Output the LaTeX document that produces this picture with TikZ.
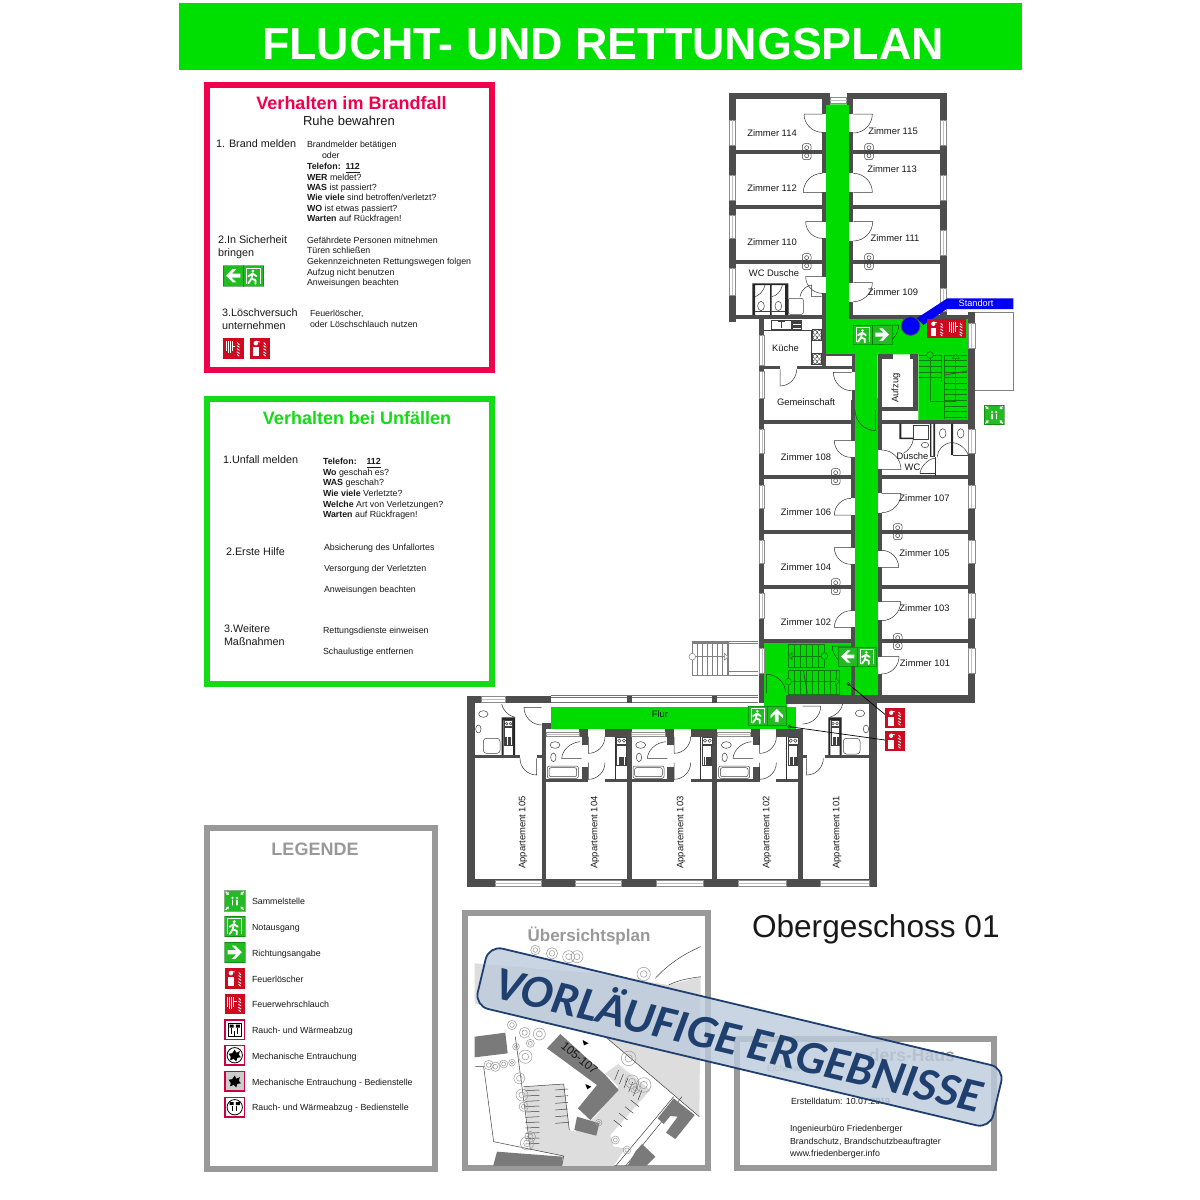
\documentclass[tikz,border=0pt]{standalone}
\usepackage{fontspec}
\setmainfont{Liberation Sans}
\newfontfamily\banfont{Carlito}
\usetikzlibrary{calc}
\definecolor{floorg}{HTML}{00DC00}
\definecolor{titleg}{HTML}{00E000}
\definecolor{signg}{HTML}{22BB22}
\definecolor{signr}{HTML}{CC0A20}
\definecolor{panelr}{HTML}{F0004C}
\definecolor{panelg}{HTML}{14DC14}
\definecolor{panelk}{HTML}{999999}
\definecolor{wallc}{HTML}{4D4D4D}
\definecolor{bandb}{HTML}{1F3F6F}
\definecolor{bandf}{HTML}{BDCBDD}
\definecolor{stairg}{HTML}{0E7A0E}
\definecolor{mapg}{HTML}{DDDDDD}
\definecolor{bldg}{HTML}{7A7A7A}
\newcommand\fz[1]{\fontsize{#1}{#1}\selectfont}
\newcounter{tn}
\newcommand\lbx[4][]{\stepcounter{tn}\node[txt,#1] (t\arabic{tn}) at (#2,#3) {#4};}
\newcommand\txS[3]{\lbx[anchor=base west,font=\fz{4.42}]{#1}{#2+3.1}{#3}}
\newcommand\txH[3]{\lbx[anchor=base west,font=\fz{5.4}]{#1}{#2+3.9}{#3}}
\newcommand\txR[3]{\lbx[font=\fz{4.7}]{#1}{#2}{#3}}
\newcommand\wlx[4]{\fill[wallc] (#1,#2) rectangle (#3,#4);}
\newcommand\gpx[4]{\fill[white] (#1,#2) rectangle (#3,#4);}
\newcommand\wvx[4]{\fill[white] (#1,#3) rectangle (#2,#4);\draw[winl] (#1,#3) rectangle (#2,#4);\draw[winc] ({(#1+#2)/2},#3) -- ({(#1+#2)/2},#4);}
\newcommand\whx[4]{\fill[white] (#1,#3) rectangle (#2,#4);\draw[winl] (#1,#3) rectangle (#2,#4);\draw[winc] (#1,{(#3+#4)/2}) -- (#2,{(#3+#4)/2});}
\newcommand\doorH[5]{\draw[doorl] (#1,#2) -- ({#1+#3*#5},#2) .. controls ({#1+#3*#5},{#2+#4*.55*#5}) and ({#1+#3*.55*#5},{#2+#4*#5}) .. (#1,{#2+#4*#5});}
\newcommand\doorV[5]{\draw[doorl] (#1,#2) -- (#1,{#2+#4*#5}) .. controls ({#1+#3*.55*#5},{#2+#4*#5}) and ({#1+#3*#5},{#2+#4*.55*#5}) .. ({#1+#3*#5},#2);}
\newcommand\duct[2]{\draw[fix,rounded corners=1.2pt] (#1-13,#2-24) rectangle (#1+13,#2-1);\draw[fix,rounded corners=1.2pt] (#1-13,#2+1) rectangle (#1+13,#2+24);\draw[fix] (#1,#2-12) ellipse (6 and 6);\draw[fix] (#1,#2+12) ellipse (6 and 6);}
\newcommand\sgn[4]{\begin{scope}[shift={(#1,#2)},scale=#3/20]#4\end{scope}}
\newcommand\gbg{\fill[signg] (0,0) rectangle (20,20);\draw[green!40!black,line width=.2pt,opacity=.5] (0,0) rectangle (20,20);}
\newcommand\rbg{\fill[signr] (0,0) rectangle (20,20);}
\newcommand\icRun{\gbg\draw[white,line width=.55pt] (3.2,18) -- (3.2,2.6) -- (16.8,2.6) -- (16.8,18);\fill[white] (9.5,5.6) circle (1.5);\draw[white,line width=.9pt,line cap=round,line join=round] (5,10.5) -- (9.2,8) -- (8,13) -- (5,17.5);\draw[white,line width=.9pt,line cap=round,line join=round] (9.2,8) -- (13,10.5);\draw[white,line width=.9pt,line cap=round,line join=round] (8,13) -- (12,14.5) -- (12,18);}
\newcommand\icArr[1]{\gbg\begin{scope}[rotate around={#1:(10,10)}]\fill[white] (17,10) -- (10.5,3.5) -- (7,3.5) -- (11.5,8) -- (3,8) -- (3,12) -- (11.5,12) -- (7,16.5) -- (10.5,16.5) -- cycle;\end{scope}}
\newcommand\flames{\draw[white,line width=.45pt,line cap=round] (14,4.5) -- (15.8,6.5) (13.8,7.5) -- (16,9) (13.8,10.5) -- (16,12) (13.6,13.5) -- (16,15) (13.8,16) -- (15.6,17.5);}
\newcommand\icExt{\rbg\fill[white] (3.5,9) rectangle (9,18);\fill[white] (6.2,5) circle (2.2);\draw[white,line width=.4pt] (6.2,3) -- (10,4);\flames}
\newcommand\icHose{\rbg\draw[white,line width=.45pt] (3,3) -- (3,13) (5,3) -- (5,15) (7,3) -- (7,15) (9,3) -- (9,13) (9,8) -- (12,8);\flames}
\newcommand\icSam{\gbg\fill[white] (7.8,7.2) circle (1.2) (12.2,7.2) circle (1.2);\draw[white,line width=.7pt,line cap=round] (7.8,9.5) -- (7.8,14) (12.2,9.5) -- (12.2,14);\foreach \a in {45,135,225,315}{\begin{scope}[rotate around={\a:(10,10)}]\fill[white] (22.5,9.4) rectangle (20.5,10.6);\fill[white] (20.5,8.2) -- (18,10) -- (20.5,11.8) -- cycle;\end{scope}}}
\newcommand\rframe{\fill[white] (0,0) rectangle (20,20);\draw[panelr!85!black,line width=.75pt] (.6,.6) rectangle (19.4,19.4);}
\newcommand\icRwa{\rframe\draw[black,line width=.3pt] (4,4) rectangle (16,16);\fill[black] (5,5) rectangle (9,8) (11,5) rectangle (15,8);\draw[black,line width=.45pt] (7,8) -- (7,14) (13,8) -- (13,14) (10,11) -- (10,16);}
\newcommand\icBlob{\fill[black] (10,4.5) -- (11.5,7.5) -- (15,6) -- (14,9.5) -- (16,12) -- (12.5,12.5) -- (11.5,16) -- (9,13.5) -- (5.5,15) -- (6,11.5) -- (4,8.5) -- (7.5,8) -- cycle;}
\newcommand\icMech{\rframe\draw[black,line width=.4pt] (10,10) circle (7.5);\icBlob}
\newcommand\icMechB{\fill[black!20] (0,0) rectangle (20,20);\draw[panelr!85!black,line width=.75pt] (.6,.6) rectangle (19.4,19.4);\icBlob}
\newcommand\icRwaB{\rframe\draw[black,line width=.4pt] (10,10) circle (7.5);\fill[black] (5,5) rectangle (9,8) (11,5) rectangle (15,8);\draw[black,line width=.4pt] (8,9) -- (8,14) (12,9) -- (12,14);}
\newcommand\tree[3]{\draw[treel] (#1,#2) circle (#3);\draw[treel] (#1,#2) circle ({#3*.5});}
\newcommand\apt[1]{%
 \wlx{358+#1}{298}{385+#1}{320}\wlx{435+#1}{298}{515+#1}{320}
 \wlx{258+#1}{448}{385+#1}{455}\wlx{435+#1}{448}{500+#1}{455}
 \wlx{365+#1}{320}{385+#1}{345}\wlx{365+#1}{410}{385+#1}{455}
 \whx{258+#1}{358+#1}{306}{320}
 \doorV{385+#1}{320}{1}{1}{50}
 \doorV{385+#1}{398}{1}{1}{50}
 \draw[doorl] (360+#1,335) .. controls (330+#1,338) and (307+#1,360) .. (305+#1,385) -- (365+#1,385);
 \draw[doorl] (465+#1,320) -- (465+#1,450);
 \draw[fix] (285+#1,345) ellipse (15 and 10);\draw[fix] (280+#1,382) ellipse (8 and 13);
 \draw[fix,rounded corners=1pt] (262+#1,408) rectangle (355+#1,445);\draw[fix,rounded corners=1pt] (267+#1,413) rectangle (350+#1,440);
 \draw[fix] (470+#1,322) rectangle (500+#1,342);\draw[fix] (478+#1,332) circle (5);\draw[fix] (492+#1,332) circle (5);
 \draw[fix] (470+#1,345) rectangle (498+#1,405);
 \foreach \q in {2,...,7}{\draw[fix] (470+#1+\q*3.5,380) -- (470+#1+\q*3.5,404);}
}
\tikzset{
 txt/.style={inner sep=0pt,outer sep=0pt,align=left,text=black!90},
 winl/.style={draw=black!45,line width=.22pt},
 winc/.style={draw=black!25,line width=.3pt},
 doorl/.style={draw=black!80,line width=.25pt},
 fix/.style={draw=black!75,line width=.25pt},
 stairo/.style={draw=black!50,line width=.25pt},
 stairl/.style={draw=stairg,line width=.3pt},
 treel/.style={draw=black!40,line width=.25pt},
 zscale/.style={shift={(#1)},scale=0.33333},
 plain panel/.style={line width=3pt,fill=white}
}
\begin{document}
\begin{tikzpicture}[x=0.5pt,y=-0.5pt]
\useasboundingbox (0,0) rectangle (1200,1200);
\fill[white] (0,0) rectangle (1200,1200);
% title
\fill[titleg] (179,3) rectangle (1022,70);
\lbx[font=\bfseries\fz{22.4},text=white]{603}{44.5}{FLUCHT- UND RETTUNGSPLAN}
% panels
\draw[panelr,plain panel] (207,85) rectangle (492,370);
\draw[panelg,plain panel] (207,399) rectangle (492,684);
\draw[panelk,plain panel] (207,828) rectangle (435,1169);
\draw[panelk,plain panel] (465,913) rectangle (708,1168);
\draw[panelk,plain panel] (737,1039) rectangle (994,1168);
% red panel text
\lbx[font=\bfseries\fz{9},text=panelr]{351.5}{103}{Verhalten im Brandfall}
\lbx[font=\fz{6.5}]{349}{121}{Ruhe bewahren}
\txH{216}{144}{1. Brand melden}
\txS{307}{144.5}{Brandmelder betätigen}
\txS{322}{155.5}{oder}
\txS{307}{166}{\textbf{Telefon:\ \ \underline{112}}}
\txS{307}{177}{\textbf{WER} meldet?}
\txS{307}{187}{\textbf{WAS} ist passiert?}
\txS{307}{197.5}{\textbf{Wie viele} sind betroffen/verletzt?}
\txS{307}{208}{\textbf{WO} ist etwas passiert?}
\txS{307}{218.5}{\textbf{Warten} auf Rückfragen!}
\txH{218}{239.5}{2.In Sicherheit}
\txH{218}{252.5}{bringen}
\txS{307}{240}{Gefährdete Personen mitnehmen}
\txS{307}{250.5}{Türen schließen}
\txS{307}{261}{Gekennzeichneten Rettungswegen folgen}
\txS{307}{272}{Aufzug nicht benutzen}
\txS{307}{282}{Anweisungen beachten}
\txH{222}{312.5}{3.Löschversuch}
\txH{222}{326}{unternehmen}
\txS{310}{313}{Feuerlöscher,}
\txS{310}{324}{oder Löschschlauch nutzen}
\sgn{223}{265.5}{20.3}{\icArr{180}}
\sgn{243.3}{265.5}{20.3}{\icRun}
\sgn{223}{338}{20.5}{\icHose}
\sgn{249.5}{338}{20.5}{\icExt}
% green panel text
\lbx[font=\bfseries\fz{9},text=panelg]{357}{418}{Verhalten bei Unfällen}
\txH{223}{460}{1.Unfall melden}
\txS{323}{461}{\textbf{Telefon:\ \ \ \ \underline{112}}}
\txS{323}{472}{\textbf{Wo} geschah es?}
\txS{323}{482.5}{\textbf{WAS} geschah?}
\txS{323}{493}{\textbf{Wie viele} Verletzte?}
\txS{323}{504}{\textbf{Welche} Art von Verletzungen?}
\txS{323}{514.5}{\textbf{Warten} auf Rückfragen!}
\txH{226}{552}{2.Erste Hilfe}
\txS{324}{547.5}{Absicherung des Unfallortes}
\txS{324}{568}{Versorgung der Verletzten}
\txS{324}{589}{Anweisungen beachten}
\txH{224}{629}{3.Weitere}
\txH{224}{642}{Maßnahmen}
\txS{323}{630.5}{Rettungsdienste einweisen}
\txS{323}{651.5}{Schaulustige entfernen}
% legend
\lbx[font=\bfseries\fz{9},text=panelk]{315}{849}{LEGENDE}
\sgn{224.5}{890.5}{20.5}{\icSam}\txS{252}{901.5}{Sammelstelle}
\sgn{224.5}{916}{20.5}{\icRun}\txS{252}{927}{Notausgang}
\sgn{224.5}{942}{20.5}{\icArr{0}}\txS{252}{953}{Richtungsangabe}
\sgn{224.5}{968}{20.5}{\icExt}\txS{252}{979}{Feuerlöscher}
\sgn{224.5}{993.5}{20.5}{\icHose}\txS{252}{1004.5}{Feuerwehrschlauch}
\sgn{224.5}{1019.5}{20.5}{\icRwa}\txS{252}{1030}{Rauch- und Wärmeabzug}
\sgn{224.5}{1045}{20.5}{\icMech}\txS{252}{1056}{Mechanische Entrauchung}
\sgn{224.5}{1071}{20.5}{\icMechB}\txS{252}{1082}{Mechanische Entrauchung - Bedienstelle}
\sgn{224.5}{1097}{20.5}{\icRwaB}\txS{252}{1107.5}{Rauch- und Wärmeabzug - Bedienstelle}
\lbx[font=\fz{15.8},anchor=west]{752}{929}{Obergeschoss 01}
\lbx[font=\bfseries\fz{8.5},text=panelk]{589}{935.5}{Übersichtsplan}
% ---------- plan: green floor
\begin{scope}[zscale={720,85}]
 \fill[floorg] (318,58) -- (388,58) -- (388,700) -- (745,700) -- (745,1005) -- (595,1005) -- (595,808) -- (473,808) -- (473,1020) -- (405,1020) -- (405,812) -- (318,812) -- cycle;
\end{scope}
\begin{scope}[zscale={720,400}]
 \fill[floorg] (405,-5) rectangle (473,885);
 \fill[floorg] (133,730) rectangle (393,885);
 \fill[floorg] (133,880) rectangle (200,925);
 \fill[floorg] (-507,920) rectangle (228,988);
\end{scope}
% north wing
\begin{scope}[zscale={720,85}]
 \wlx{27}{23}{330}{43}\wlx{380}{23}{680}{43}\wlx{307}{23}{330}{60}\wlx{380}{23}{400}{60}
 \wlx{27}{23}{47}{710}\wlx{660}{23}{680}{700}
 \wlx{47}{195}{307}{207}\wlx{47}{360}{307}{372}\wlx{47}{525}{307}{537}
 \wlx{400}{195}{660}{207}\wlx{400}{360}{660}{372}\wlx{400}{525}{660}{537}
 \wlx{307}{43}{318}{842}\wlx{388}{43}{400}{700}
 \wlx{27}{690}{318}{702}\wlx{388}{690}{765}{702}\wlx{745}{680}{765}{715}
 \wlx{118}{700}{133}{1025}
 \wlx{118}{842}{180}{853}\wlx{230}{842}{405}{853}
 \wlx{318}{806}{405}{812}\wlx{395}{806}{405}{1025}
 \wlx{473}{808}{485}{1025}\wlx{473}{808}{520}{822}\wlx{570}{808}{595}{822}\wlx{580}{808}{595}{978}
 \wlx{485}{965}{595}{978}\wlx{473}{1005}{765}{1017}\wlx{745}{790}{765}{1025}
 % windows
 \wvx{27}{47}{105}{180}\wvx{27}{47}{270}{345}\wvx{27}{47}{390}{460}\wvx{27}{47}{550}{630}
 \wvx{660}{680}{105}{180}\wvx{660}{680}{270}{345}\wvx{660}{680}{435}{510}\wvx{660}{680}{610}{680}
 \wvx{118}{133}{750}{840}\wvx{118}{133}{860}{940}\wvx{745}{765}{715}{790}
 \whx{330}{380}{37}{56}
 % door gaps
 \gpx{307}{87}{318}{140}\gpx{307}{265}{318}{322}\gpx{307}{410}{318}{460}\gpx{307}{575}{318}{625}
 \gpx{388}{87}{400}{142}\gpx{388}{265}{400}{322}\gpx{388}{410}{400}{468}\gpx{388}{593}{400}{650}
 \gpx{395}{862}{405}{915}\gpx{180}{842}{230}{853}
 % doors
 \doorH{307}{87}{-1}{1}{55}\doorH{307}{322}{-1}{-1}{57}\doorH{307}{410}{-1}{1}{50}\doorH{307}{575}{-1}{1}{50}
 \doorH{400}{87}{1}{1}{57}\doorH{400}{322}{1}{-1}{57}\doorH{400}{410}{1}{1}{58}\doorH{400}{593}{1}{1}{57}
 \doorH{395}{862}{-1}{1}{55}
 \doorV{180}{853}{1}{1}{50}
 \doorH{478}{720}{1}{1}{58}
 \duct{260}{200}\duct{447}{200}\duct{260}{530}\duct{447}{530}
 % WC Dusche
 \fill[black!85] (97,595) rectangle (105,690) (150,595) rectangle (155,690) (195,595) rectangle (205,690) (97,595) rectangle (205,600);
 \draw[fix] (123,663) ellipse (10 and 14);\draw[fix] (175,663) ellipse (10 and 14);
 \draw[doorl] (105,635) .. controls (115,632) and (130,622) .. (135,600);\draw[doorl] (155,635) .. controls (170,632) and (182,622) .. (187,600);
 \draw[fix] (105,680) -- (195,680);
 \draw[fix,rounded corners=1pt] (205,640) rectangle (250,688);
 \draw[doorl] (240,635) .. controls (245,610) and (265,600) .. (275,600) -- (275,635) -- (305,635);
 % Kueche
 \draw[fix] (133,735) -- (275,735) -- (275,840);
 \draw[fix] (155,705) rectangle (215,732);\draw[fix] (185,705) -- (185,728) (175,710) -- (195,710);
 \draw[fix] (218,705) rectangle (245,732);\foreach \q in {708,712,...,730}{\draw[fix] (218,\q) -- (245,\q);}
 \foreach \q in {750,822}{\draw[fix] (278,\q-16) rectangle (305,\q+16);\draw[fix] (285,\q-8) circle (6);\draw[fix] (298,\q-8) circle (6);\draw[fix] (285,\q+8) circle (6);\draw[fix] (298,\q+8) circle (6);}
 % stairs north
 \foreach \q in {810,827,...,880}{\draw[stairl] (597,\q) -- (665,\q) (672,\q) -- (742,\q);}
 \foreach \q in {895,912,...,1000}{\draw[stairl] (672,\q) -- (742,\q);}
 \draw[stairl] (630,810) -- (630,948) -- (707,948) -- (707,815);
 \draw[stairl] (665,810) -- (665,890) (672,810) -- (672,1003);
 \draw[stairl,fill=floorg] (630,810) circle (10);
 \draw[stairl,fill=floorg] (697,820) -- (707,808) -- (717,820) -- cycle;
 \draw[black!70,line width=.45pt] (675,870) -- (742,858);
 % standort
 \fill[blue!95!black] (682,640) -- (880,640) -- (880,672) -- (680,672) -- (610,720) -- (590,700) -- cycle;
 \fill[blue!95!black] (572,723) circle (28);
 \draw[black!70] (572,723) circle (28);
 \draw[draw=black!50,line width=.25pt] (765,682) -- (880,682) -- (880,915) -- (765,915);
\end{scope}
\lbx[font=\fz{4.6},text=white]{976}{303.5}{Standort}
\txR{772}{133}{Zimmer 114}\txR{893}{131}{Zimmer 115}\txR{772}{188}{Zimmer 112}\txR{892}{169.5}{Zimmer 113}
\txR{772}{242.5}{Zimmer 110}\txR{895}{238}{Zimmer 111}\txR{774}{273}{WC Dusche}\txR{893}{292.5}{Zimmer 109}
\txR{785.5}{348}{Küche}\txR{806}{402.5}{Gemeinschaft}
\lbx[font=\fz{4.7},rotate=90]{896}{388}{Aufzug}
% middle wing
\begin{scope}[zscale={720,400}]
 \wlx{118}{0}{133}{910}\wlx{745}{0}{765}{910}
 \wlx{393}{0}{405}{885}\wlx{473}{0}{485}{885}
 \foreach \a in {60,225,390,555,718}{\wlx{133}{\a}{393}{\a+11}}
 \foreach \a in {225,390,555,718}{\wlx{485}{\a}{745}{\a+11}}
 \wlx{485}{60}{745}{70}
 \wlx{200}{885}{765}{910}
 \foreach \a/\b in {88/160,255/325,420/490,580/655,745/820}{\wvx{118}{133}{\a}{\b}\wvx{745}{765}{\a}{\b}}
 \gpx{393}{122}{405}{172}\gpx{393}{295}{405}{345}\gpx{393}{443}{405}{493}\gpx{393}{632}{405}{682}
 \gpx{473}{150}{485}{208}\gpx{473}{280}{485}{338}\gpx{473}{452}{485}{502}\gpx{473}{605}{485}{660}\gpx{473}{770}{485}{822}
 \doorH{393}{122}{-1}{1}{50}\doorH{393}{345}{-1}{-1}{50}\doorH{393}{443}{-1}{1}{50}\doorH{393}{682}{-1}{-1}{50}
 \doorH{485}{208}{1}{-1}{58}\doorH{485}{280}{1}{1}{58}\doorH{485}{502}{1}{-1}{51}\doorH{485}{605}{1}{1}{57}\doorH{485}{770}{1}{1}{52}
 \doorV{467}{30}{-1}{1}{62}
 \doorH{393}{738}{-1}{1}{56}
 \doorV{140}{880}{1}{-1}{57}
 \duct{347}{230}\duct{533}{395}\duct{347}{560}\duct{533}{725}
 % hall stairs
 \draw[stairl] (205,733) rectangle (313,802);\draw[stairl] (205,812) rectangle (358,882);
 \foreach \q in {223,241,...,313}{\draw[stairl] (\q,733) -- (\q,802);}
 \foreach \q in {223,241,...,358}{\draw[stairl] (\q,812) -- (\q,882);}
 \draw[stairl] (205,768) -- (313,768) (205,845) -- (358,845);
 \draw[stairl,fill=floorg] (313,768) circle (10);\draw[stairl,fill=floorg] (205,845) circle (10);
 \draw[stairl,fill=floorg] (216,758) -- (205,768) -- (216,778) -- cycle;
 \draw[stairl,fill=floorg] (347,835) -- (358,845) -- (347,855) -- cycle;
 \draw[black!75,line width=.4pt] (250,812) -- (262,880);
\end{scope}
\begin{scope}[zscale={880,415}]
 \fill[black!85] (58,26) rectangle (64,72) (58,68) rectangle (100,72) (150,26) rectangle (154,125) (160,26) rectangle (165,125) (213,26) rectangle (219,120);
 \draw[fix] (100,30) rectangle (145,72);
 \draw[fix] (135,90) ellipse (11 and 8);
 \draw[fix] (188,55) ellipse (10 and 14);\draw[fix] (242,55) ellipse (10 and 14);
 \draw[doorl] (172,125) .. controls (172,105) and (190,85) .. (213,83);
 \draw[doorl] (219,83) .. controls (240,85) and (262,105) .. (265,122);
 \draw[fix] (219,120) -- (265,120);
 \draw[doorl] (100,72) .. controls (98,90) and (85,108) .. (70,115);
 \draw[fix] (150,125) -- (165,125);
 \draw[doorl] (120,175) -- (165,175) -- (165,125);
 \draw[doorl] (120,175) .. controls (122,155) and (145,130) .. (165,130);
 \fill[black!85] (165,176) rectangle (169,182);
\end{scope}
\txR{806}{457.5}{Zimmer 108}\txR{806}{512.5}{Zimmer 106}\txR{806}{567.5}{Zimmer 104}\txR{806}{622}{Zimmer 102}
\txR{912.5}{456}{Dusche}\txR{912.5}{467}{WC}
\txR{924.5}{498.5}{Zimmer 107}\txR{924.5}{553.5}{Zimmer 105}\txR{924.5}{608.5}{Zimmer 103}\txR{925}{663}{Zimmer 101}
% south wing
\begin{scope}[zscale={460,630}]
 % outside stair
 \draw[stairo] (697,38) rectangle (805,135);
 \foreach \q in {712,727,...,805}{\draw[stairo] (\q,38) -- (\q,135);}
 \draw[stairo] (697,80) -- (800,80);
 \draw[stairo,fill=white] (697,80) circle (10);
 \draw[stairo,fill=white] (793,70) -- (805,80) -- (793,90) -- cycle;
 \draw[stairo] (697,35) -- (895,35) (697,40) -- (895,40) (805,125) -- (895,125) (805,135) -- (895,135);
 \wlx{20}{197}{272}{220}\wlx{20}{197}{45}{772}\wlx{1228}{195}{1252}{772}
 \wlx{978}{195}{1252}{222}
 \wlx{20}{748}{1252}{772}
 \wlx{245}{280}{258}{772}\wlx{245}{280}{272}{298}
 \wlx{500}{320}{515}{772}\wlx{757}{320}{772}{772}\wlx{1015}{298}{1028}{772}
 \gpx{1015}{230}{1028}{285}\gpx{245}{228}{258}{280}
 \draw[black!55,line width=.25pt] (272,197) -- (895,197) (272,203) -- (895,203) (272,218) -- (895,218);
 \wlx{500}{197}{515}{218}\wlx{757}{197}{772}{218}
 \whx{65}{137}{199}{216}
 \foreach \a/\b in {105/245,345/485,590/730,835/978,1082/1228}{\whx{\a}{\b}{752}{768}}
 % apt 105
 \wlx{45}{375}{180}{385}\wlx{230}{375}{245}{385}
 \doorV{230}{385}{-1}{1}{50}
 \doorH{245}{232}{-1}{1}{53}
 \draw[doorl] (125,222) .. controls (128,240) and (145,258) .. (165,262);
 \fill[black!85] (125,262) rectangle (165,270) (125,262) rectangle (131,375) (159,262) rectangle (165,375);
 \draw[fix] (134,272) rectangle (158,290);\draw[fix] (140,281) circle (4);\draw[fix] (152,281) circle (4);
 \draw[fix] (134,292) rectangle (158,345);\foreach \q in {136,140,...,156}{\draw[fix] (\q,322) -- (\q,345);}
 \draw[fix] (70,252) ellipse (14 and 10);\draw[fix] (55,297) ellipse (8 and 12);
 \draw[fix,rounded corners=1.5pt] (70,325) rectangle (120,370);
 % apt 101
 \wlx{1095}{375}{1228}{385}\wlx{1028}{375}{1040}{385}
 \doorV{1040}{385}{1}{1}{50}
 \doorH{1028}{228}{1}{1}{54}
 \draw[doorl] (1148,222) .. controls (1145,240) and (1128,258) .. (1108,262);
 \fill[black!85] (1105,262) rectangle (1145,270) (1105,262) rectangle (1111,375) (1139,262) rectangle (1145,375);
 \draw[fix] (1113,272) rectangle (1137,290);\draw[fix] (1119,281) circle (4);\draw[fix] (1131,281) circle (4);
 \draw[fix] (1113,292) rectangle (1137,345);\foreach \q in {1115,1119,...,1135}{\draw[fix] (\q,322) -- (\q,345);}
 \draw[fix] (1200,250) ellipse (14 and 10);\draw[fix] (1218,297) ellipse (8 and 12);
 \draw[fix,rounded corners=1.5pt] (1150,325) rectangle (1200,372);
 \apt{0}\apt{257}\apt{514}
 \wlx{948}{298}{1028}{320}
 % small marks and leader lines
 \draw[black,line width=.35pt] (988,290) -- (1275,330);
 \draw[fix] (988,290) circle (5);
\end{scope}
\begin{scope}[zscale={720,400}]
 \draw[black,line width=.35pt] (385,852) -- (497,945);
 \draw[fix] (385,852) circle (5);
\end{scope}
\lbx[font=\fz{4.7},rotate=90]{523}{832.5}{Appartement 105}
\lbx[font=\fz{4.7},rotate=90]{595}{832.5}{Appartement 104}
\lbx[font=\fz{4.7},rotate=90]{681}{832.5}{Appartement 103}
\lbx[font=\fz{4.7},rotate=90]{767}{832.5}{Appartement 102}
\lbx[font=\fz{4.7},rotate=90]{837}{832.5}{Appartement 101}
\txR{660}{714}{Flur}
% plan signs
\sgn{853.3}{325}{19.2}{\icRun}\sgn{872.6}{325}{19.2}{\icArr{0}}
\sgn{927.3}{319}{19.3}{\icExt}\sgn{946.7}{319}{19.3}{\icHose}
\sgn{984.3}{405}{19.6}{\icSam}
\sgn{838.3}{647}{19}{\icArr{180}}\sgn{857.3}{647}{19}{\icRun}
\sgn{748.3}{706}{19}{\icRun}\sgn{767.3}{706}{19}{\icArr{90}}
\sgn{885}{708}{19.5}{\icExt}\sgn{885}{731}{19.5}{\icExt}
% overview map
\begin{scope}
 \clip (468,916) rectangle (705,1165);
 \begin{scope}[zscale={462,940}]
  \fill[mapg] (38,70) -- (38,190) -- (430,290) -- (712,530) -- (716,110) -- (620,135) -- (400,100) -- cycle;
  \draw[fix] (430,290) -- (712,530);
  \draw[fix] (580,115) .. controls (620,70) and (670,40) .. (716,20);
  \draw[fix] (620,135) .. controls (650,120) and (680,115) .. (716,110);
  \fill[mapg] (185,440) -- (305,432) -- (322,570) -- (340,575) -- (400,530) -- (470,440) -- (430,400) -- (468,372) -- (565,450) -- (445,585) -- (455,620) -- (490,625) -- (450,685) -- (300,685) -- (300,648) -- (205,628) -- cycle;
  \draw[fix] (40,380) -- (65,380) -- (95,605) -- (305,648) -- (298,685);
  \draw[fix] (455,685) -- (635,470);\draw[fix] (485,685) -- (660,470);
  \draw[fix] (160,290) -- (205,630);
  \draw[fix] (185,440) -- (305,432) -- (322,570);
  \fill[bldg] (255,325) -- (295,282) -- (430,405) -- (470,450) -- (385,540) -- (348,505) -- (405,435) -- cycle;
  \fill[bldg] (345,530) -- (412,550) -- (403,587) -- (337,570) -- cycle;
  \fill[bldg] (38,290) -- (130,278) -- (137,340) -- (38,352) -- cycle;
  \fill[bldg] (105,635) -- (302,650) -- (298,690) -- (90,690) -- cycle;
  \fill[bldg] (635,475) -- (698,525) -- (640,597) -- (612,578) -- (647,530) -- (625,528) -- (605,552) -- (587,535) -- cycle;
  \fill[bldg] (540,612) -- (580,650) -- (540,690) -- (490,690) -- (520,635) -- cycle;
  \fill[black] (362,300) -- (380,310) -- (366,316) -- cycle;
  \fill[black] (370,432) -- (388,440) -- (376,448) -- cycle;
  \foreach \q in {452,468,...,615}{\draw[fix] (190,\q) -- (232,\q-2);}
  \foreach \q in {450,470,...,565}{\draw[fix] (280,\q) -- (318,\q-3);}
  \foreach \a in {0,1,2,3}{\draw[fix] (455+\a*17,540-\a*20) -- (480+\a*17,560-\a*20);}
  \foreach \a in {0,1,2,3,4,5}{\draw[fix] (470+\a*14,390+\a*12) -- (458+\a*14,420+\a*12);}
  \foreach \p/\q/\r in {220/30/14,270/40/17,320/50/18,345/50/18,545/102/20,150/255/14,188/278/16,232/282/18,205/310/12,162/320/10,190/350/20,80/375/14,100/380/14,125/372/12,150/368/10,172/415/17,180/465/18,185/500/14,205/590/16,195/610/20,500/355/22,510/425/20,545/435/22,520/445/15,460/600/12,495/630/12,410/548/10}{\tree{\p}{\q}{\r}}
 \end{scope}
 \lbx[font=\fz{5.9},rotate=-40]{579.5}{1058}{105-107}
\end{scope}
% address panel
\lbx[font=\bfseries\fz{8.8},text=panelk,anchor=east]{955}{1055}{ders-Haus}
\lbx[font=\fz{4.42},text=panelk,anchor=west]{767}{1068}{Eichenallee}
\txS{791}{1101.5}{Erstelldatum: 10.07.2019}
\txS{790}{1128.5}{Ingenieurbüro Friedenberger}
\txS{790}{1141}{Brandschutz, Brandschutzbeauftragter}
\txS{790}{1153.5}{www.friedenberger.info}
% banner
\node[rotate=-13.4,draw=bandb,line width=.9pt,fill=bandf,fill opacity=.8,text opacity=1,rounded corners=7pt,minimum width=265pt,minimum height=31pt,inner sep=0pt,text=bandb,font=\banfont\bfseries\itshape\fz{23.5}] (banner) at (739.5,1037) {VORLÄUFIGE ERGEBNISSE};
\end{tikzpicture}
\end{document}
